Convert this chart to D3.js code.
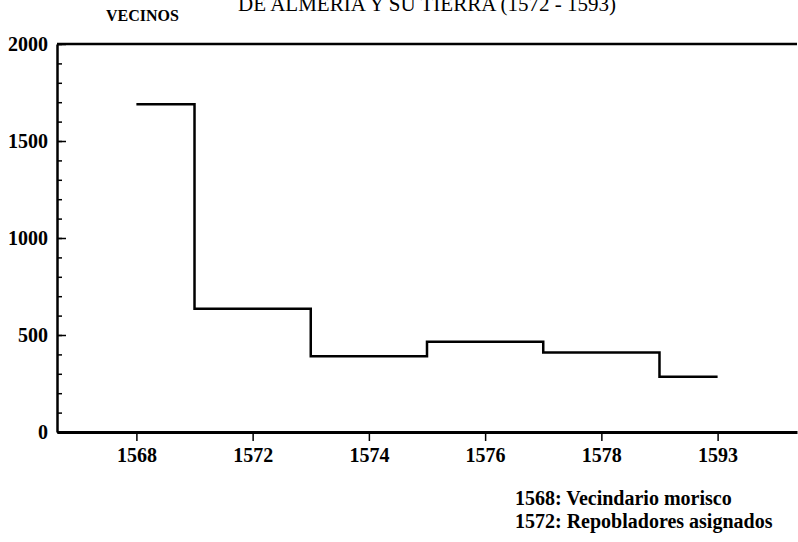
<!DOCTYPE html>
<html>
<head>
<meta charset="utf-8">
<script src="https://cdn.jsdelivr.net/npm/d3@7"></script>
<style>
	body{margin:0;background:#fff;}
	text{font-family:"Liberation Serif","DejaVu Serif",serif;fill:#000;}
</style>
</head>
<body>
<svg id="chart" width="798" height="542"></svg>
<script>
//data
var years=["1568","1572","1574","1576","1578","1593"];
var vecinos=[1690,635,390,465,410,285];
var yTicks=[0,500,1000,1500,2000];
var yMinorTicks=d3.range(0,2001,100);
var notes=["1568: Vecindario morisco","1572: Repobladores asignados"];
var titleText="DE ALMERIA Y SU TIERRA (1572 - 1593)";
var yLabel="VECINOS";

var svg=d3.select("#chart");
var plotLeft=57, plotRight=797, plotTop=44, plotBottom=432;

var x=d3.scalePoint()
		.domain(years)
		.range([plotLeft,plotRight])
		.padding(0.683);
var y=d3.scaleLinear()
		.domain([0,2000])
		.range([plotBottom,plotTop]);

//title (first line is cut off in the original)
svg.append("text")
	.attr("x",427)
	.attr("y",11)
	.attr("text-anchor","middle")
	.style("font-size","21px")
	.text(titleText);

svg.append("text")
	.attr("x",106)
	.attr("y",21)
	.style("font-size","16px")
	.style("font-weight","bold")
	.text(yLabel);

//top border
svg.append("line")
	.attr("x1",plotLeft).attr("x2",plotRight)
	.attr("y1",plotTop).attr("y2",plotTop)
	.attr("stroke","#000")
	.attr("stroke-width",2.5);

//minor ticks on y
svg.append("g")
	.attr("transform","translate("+plotLeft+",0)")
	.call(d3.axisRight(y).tickValues(yMinorTicks).tickSize(5).tickFormat(""))
	.call(function(g){g.select(".domain").remove();})
	.selectAll("line").attr("stroke-width",1.5);

//y axis, ticks pointing in
var yAxis=svg.append("g")
	.attr("transform","translate("+plotLeft+",0)")
	.call(d3.axisLeft(y).tickValues(yTicks).tickSizeInner(-9).tickSizeOuter(0).tickPadding(9).tickFormat(d3.format("d")));
yAxis.select(".domain").attr("stroke-width",2.5);
yAxis.selectAll("line").attr("stroke-width",1.5);
yAxis.selectAll("text")
	.style("font-size","20px")
	.style("font-weight","bold")
	.attr("font-family",null);

//x axis
var xAxis=svg.append("g")
	.attr("transform","translate(0,"+plotBottom+")")
	.call(d3.axisBottom(x).tickSize(9).tickSizeOuter(0).tickPadding(7));
xAxis.select(".domain").attr("stroke-width",3);
xAxis.selectAll("line").attr("stroke-width",1.5);
xAxis.selectAll("text")
	.style("font-size","20px")
	.style("font-weight","bold")
	.attr("font-family",null);

//step line
var line=d3.line()
	.x(function(d,i){return x(years[i]);})
	.y(function(d){return y(d);})
	.curve(d3.curveStep);

svg.append("path")
	.datum(vecinos)
	.attr("d",line)
	.attr("fill","none")
	.attr("stroke","#000")
	.attr("stroke-width",2.5);

//notes under the chart
svg.selectAll(".note")
	.data(notes)
	.enter()
	.append("text")
	.attr("class","note")
	.attr("x",515)
	.attr("y",function(d,i){return 505+i*23;})
	.style("font-size","20px")
	.style("font-weight","bold")
	.text(function(d){return d;});
</script>
</body>
</html>
